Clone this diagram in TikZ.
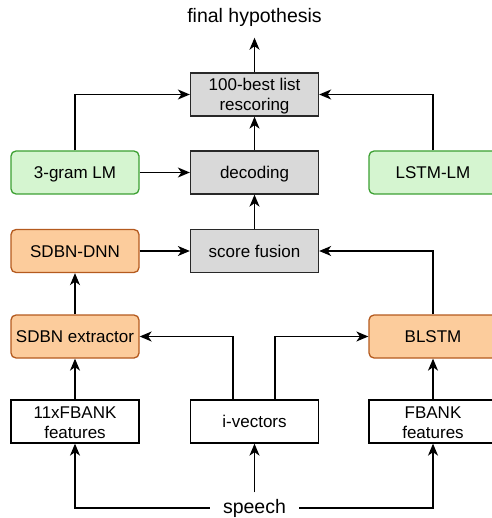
\documentclass[tikz,border=0pt]{standalone}
\usepackage{fontspec}
\setmainfont{Liberation Sans}
\usetikzlibrary{arrows.meta}
\definecolor{procfill}{RGB}{217,217,217}
\definecolor{procline}{RGB}{40,40,40}
\definecolor{lmfill}{RGB}{213,245,208}
\definecolor{lmline}{RGB}{60,160,50}
\definecolor{netfill}{RGB}{252,204,156}
\definecolor{netline}{RGB}{180,90,30}

\begin{document}
\begin{tikzpicture}[x=1pt, y=-1pt, line width=1.3pt,
  >={Stealth[length=12pt, width=10pt, inset=3.5pt]},
  box/.style={draw, minimum width=128pt, minimum height=43pt, inner sep=0pt,
    align=center, font=\fontsize{17}{20}\selectfont,
    text height=12.5pt, text depth=-1.5pt},
  twolines/.style={text height=33pt, text depth=0pt},
  proc/.style={box, fill=procfill, draw=procline},
  lm/.style={box, rounded corners=5pt, fill=lmfill, draw=lmline},
  net/.style={box, rounded corners=5pt, fill=netfill, draw=netline},
  feat/.style={box, fill=white, draw=black},
  ends/.style={font=\fontsize{19.5}{22}\selectfont}]
\useasboundingbox (0,0) rectangle (491,518);
% processing chain in the middle
\node [proc, twolines] (rescore) at (254.5,94.5) {100-best list\\rescoring};
\node [proc] (decode) at (254.5,172.5) {decoding};
\node [proc] (fusion) at (254.5,251) {score fusion};
% language models
\node [lm] (trigram) at (75,172.5) {3-gram LM};
\node [lm] (lstmlm) at (433,172.5) {LSTM-LM};
% acoustic models
\node [net] (sdbndnn) at (75,251) {SDBN-DNN};
\node [net] (extractor) at (75,336.5) {SDBN extractor};
\node [net] (blstm) at (433,336.5) {BLSTM};
% features
\node [feat, twolines] (fbank11) at (75,421.5) {11xFBANK\\features};
\node [feat] (ivec) at (254.5,421.5) {i-vectors};
\node [feat, twolines] (fbank) at (433,421.5) {FBANK\\features};
\node [ends, inner xsep=12.5pt, inner ysep=6pt] (speech) at (254.5,508) {speech};
\node [ends, inner ysep=11pt] (final) at (254.5,17) {final hypothesis};

\draw [->] (rescore) -- (final);
\draw [->] (decode) -- (rescore);
\draw [->] (fusion) -- (decode);
\draw [->] (trigram.north) |- (rescore.west);
\draw [->] (lstmlm.north) |- (rescore.east);
\draw [->] (trigram) -- (decode);
\draw [->] (sdbndnn) -- (fusion);
\draw [->] (blstm.north) |- (fusion.east);
\draw [->] (extractor) -- (sdbndnn);
\draw [->] (fbank11) -- (extractor);
\draw [->] (fbank) -- (blstm);
\draw [->] ([xshift=-21.5pt]ivec.north) |- (extractor.east);
\draw [->] ([xshift=20.5pt]ivec.north) |- (blstm.west);
\draw [->] (speech) -- (ivec);
\draw [->] (speech.west) -| (fbank11.south);
\draw [->] (speech.east) -| (fbank.south);
\end{tikzpicture}
\end{document}
